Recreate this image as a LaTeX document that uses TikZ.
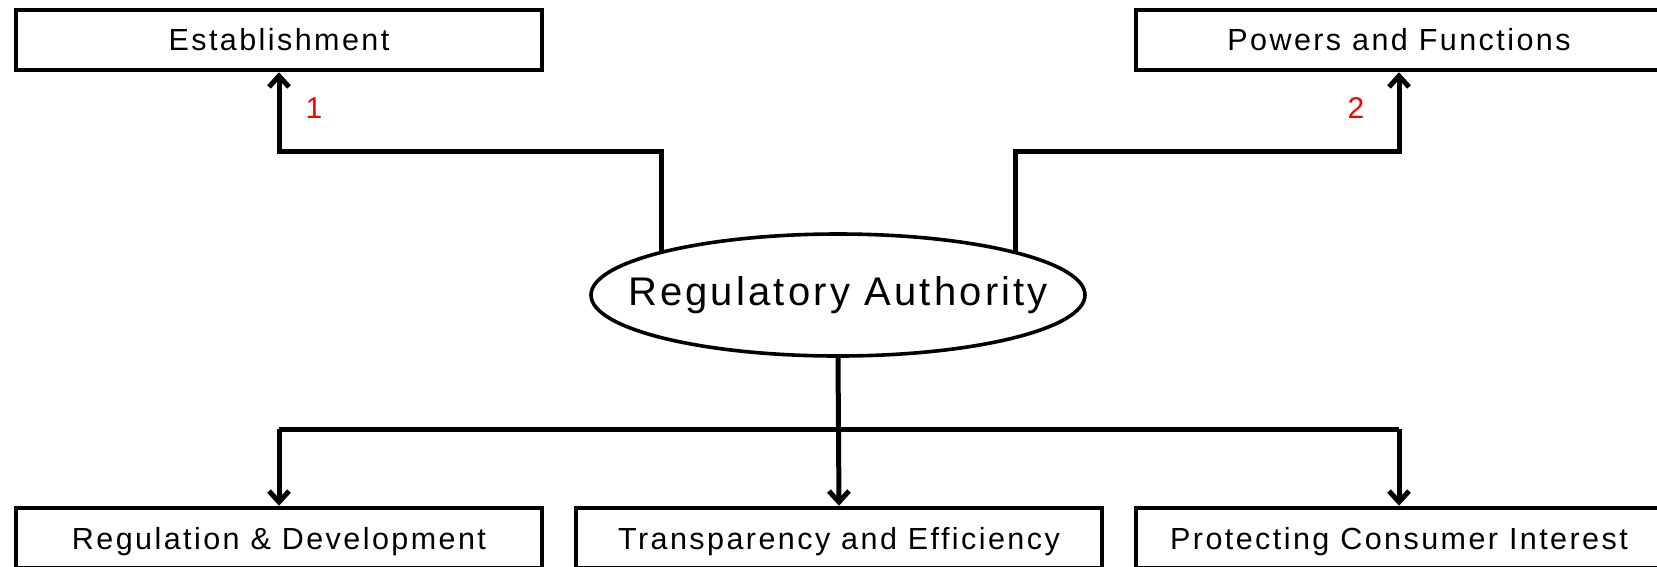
\documentclass[tikz,border=0pt]{standalone}
\usepackage{fontspec}
\setmainfont{Liberation Sans}[LetterSpace=8]
\usetikzlibrary{shapes.geometric,arrows.meta}
\begin{document}
\begin{tikzpicture}[x=1pt,y=-1pt,
  box/.style={draw,line width=4.5pt,minimum width=526pt,minimum height=60pt,inner sep=0pt,font=\fontsize{30.5}{34}\selectfont},
  lowtext/.style={text height=27pt,text depth=5pt},
  oval/.style={draw,ellipse,line width=3.6pt,minimum width=494pt,minimum height=122pt,inner sep=0pt,font=\fontsize{40}{46}\selectfont},
  conn/.style={line width=5pt},
  arr/.style={line width=5pt,-{Straight Barb[length=11pt,width=20pt,line width=5pt]}},
  num/.style={text=red,font=\fontsize{30}{34}\selectfont}]
\useasboundingbox (0,0) rectangle (1657,566);
\node[box] (est) at (279,40) {Establishment};
\node[box] (pf) at (1399,40) {Powers and Functions};
\node[box,lowtext] (rd) at (279,538) {Regulation \& Development};
\node[box,lowtext] (te) at (839,538) {Transparency and Efficiency};
\node[box,lowtext] (pc) at (1399,538) {Protecting Consumer Interest};
\node[oval] (ra) at (838,295) {\makebox[0pt]{Regulatory Authority}};
\coordinate (ht) at (0,151);
\coordinate (hb) at (0,429);
\draw[arr] (ra.166) -- (ra.166 |- ht) -| (est.south);
\draw[arr] (ra.14.5) -- (ra.14.5 |- ht) -| (pf.south);
\draw[conn] (rd.north |- hb) -- (pc.north |- hb);
\draw[arr] (rd.north |- hb) -- (rd.north);
\draw[arr] (pc.north |- hb) -- (pc.north);
\draw[arr] (ra.south) -- (te.north);
\node[num] (n1) at (314,108) {1};
\node[num] (n2) at (1356,108) {2};
\end{tikzpicture}
\end{document}
